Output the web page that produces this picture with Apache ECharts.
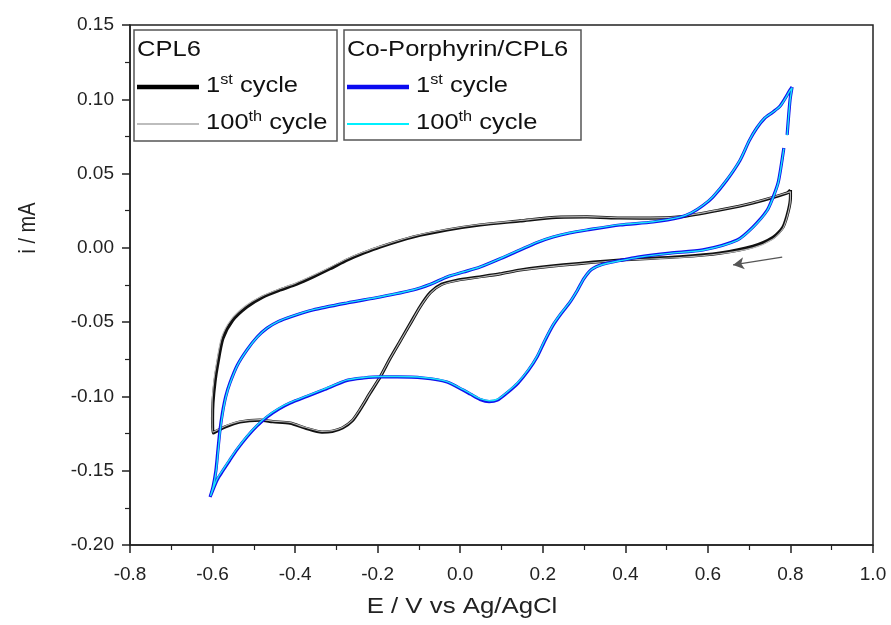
<!DOCTYPE html>
<html>
<head>
<meta charset="utf-8">
<title>Cyclic voltammetry: CPL6 vs Co-Porphyrin/CPL6</title>
<script src="https://cdn.jsdelivr.net/npm/echarts@6/dist/echarts.min.js"></script>
<style>
  html, body { margin: 0; padding: 0; background: #fff; }
  #chart { width: 891px; height: 625px; }
</style>
</head>
<body>
<div id="chart"></div>
<script>
// Potential axis ticks (V vs Ag/AgCl) and current axis ticks (mA)
const xTicks = [-0.8, -0.6, -0.4, -0.2, 0.0, 0.2, 0.4, 0.6, 0.8, 1.0];
const yTicks = [-0.20, -0.15, -0.10, -0.05, 0.00, 0.05, 0.10, 0.15];

// CPL6, 1st cycle: [E (V), i (mA)], scan starts at +0.8 V going cathodic
const cpl6First = [
  [0.800, 0.039], [0.800, 0.034], [0.795, 0.025], [0.782, 0.014], [0.758, 0.007],
  [0.709, 0.001], [0.629, -0.0035], [0.532, -0.006], [0.387, -0.0082], [0.250, -0.0115],
  [0.145, -0.0149], [0.096, -0.0175], [0.040, -0.0198], [-0.008, -0.0218], [-0.045, -0.0245],
  [-0.072, -0.0300], [-0.097, -0.0395], [-0.120, -0.0505], [-0.145, -0.0625], [-0.170, -0.0745],
  [-0.194, -0.0869], [-0.219, -0.0980], [-0.243, -0.1090], [-0.262, -0.1165], [-0.285, -0.1212],
  [-0.310, -0.1235], [-0.335, -0.1240], [-0.376, -0.1212], [-0.412, -0.1180], [-0.454, -0.1170],
  [-0.485, -0.1160], [-0.534, -0.1172], [-0.570, -0.1206], [-0.599, -0.1246],
  [-0.600, -0.1150], [-0.599, -0.1044], [-0.594, -0.0900], [-0.588, -0.0790], [-0.575, -0.0610],
  [-0.552, -0.0490], [-0.517, -0.0398], [-0.478, -0.0331], [-0.437, -0.0284], [-0.397, -0.0245],
  [-0.357, -0.0196], [-0.315, -0.0140], [-0.274, -0.0082], [-0.234, -0.0035], [-0.194, 0.0006],
  [-0.114, 0.0073], [-0.032, 0.0120], [0.048, 0.0154], [0.145, 0.0181], [0.232, 0.0205],
  [0.307, 0.0208], [0.387, 0.0201], [0.460, 0.0200], [0.532, 0.0208], [0.629, 0.0255],
  [0.709, 0.0302], [0.792, 0.0369], [0.800, 0.039]
];

// CPL6, 100th cycle
const cpl6Hundredth = [
  [0.800, 0.038], [0.800, 0.033], [0.795, 0.024], [0.782, 0.013], [0.758, 0.006],
  [0.709, 0.000], [0.629, -0.0040], [0.532, -0.0065], [0.387, -0.0085], [0.250, -0.0118],
  [0.145, -0.0151], [0.096, -0.0177], [0.040, -0.0201], [-0.008, -0.0221], [-0.045, -0.0248],
  [-0.072, -0.0303], [-0.097, -0.0397], [-0.120, -0.0506], [-0.145, -0.0626], [-0.170, -0.0745],
  [-0.194, -0.0868], [-0.219, -0.0978], [-0.243, -0.1087], [-0.262, -0.1161], [-0.285, -0.1207],
  [-0.310, -0.1230], [-0.335, -0.1235], [-0.376, -0.1208], [-0.412, -0.1176], [-0.454, -0.1166],
  [-0.485, -0.1156], [-0.534, -0.1168], [-0.570, -0.1200], [-0.599, -0.1240],
  [-0.601, -0.1150], [-0.601, -0.1040], [-0.597, -0.0895], [-0.591, -0.0784], [-0.578, -0.0602],
  [-0.555, -0.0482], [-0.520, -0.0390], [-0.480, -0.0324], [-0.440, -0.0278], [-0.400, -0.0239],
  [-0.360, -0.0190], [-0.318, -0.0134], [-0.277, -0.0077], [-0.236, -0.0030], [-0.196, 0.0010],
  [-0.116, 0.0077], [-0.034, 0.0124], [0.046, 0.0157], [0.145, 0.0184], [0.232, 0.0208],
  [0.307, 0.0210], [0.387, 0.0203], [0.460, 0.0202], [0.532, 0.0210], [0.629, 0.0257],
  [0.709, 0.0304], [0.792, 0.0371], [0.800, 0.038]
];

// Co-Porphyrin/CPL6, 1st cycle ('-' marks the short gap near +0.79 V)
const coPorFirst = [
  [0.804, 0.1083], [0.799, 0.0995], [0.792, 0.0760], ['-', '-'], [0.784, 0.0672],
  [0.777, 0.0544], [0.770, 0.0437], [0.758, 0.0342], [0.743, 0.0250], [0.709, 0.0140],
  [0.671, 0.0053], [0.588, -0.0014], [0.508, -0.0035], [0.430, -0.0062], [0.387, -0.0085],
  [0.345, -0.0110], [0.318, -0.0145], [0.300, -0.0205], [0.284, -0.0285], [0.266, -0.0365],
  [0.245, -0.0440], [0.225, -0.0520], [0.205, -0.0625], [0.186, -0.0735], [0.165, -0.0825],
  [0.140, -0.0910], [0.113, -0.0977], [0.090, -0.1025], [0.070, -0.1035], [0.048, -0.1020],
  [0.025, -0.0985], [0.007, -0.0957], [-0.032, -0.0903], [-0.090, -0.0876], [-0.153, -0.0869],
  [-0.194, -0.0869], [-0.234, -0.0876], [-0.274, -0.0892], [-0.332, -0.0957], [-0.372, -0.1000],
  [-0.412, -0.1044], [-0.440, -0.1085], [-0.468, -0.1138], [-0.493, -0.1200], [-0.517, -0.1273],
  [-0.540, -0.1355], [-0.558, -0.1428], [-0.575, -0.1500], [-0.589, -0.1562], [-0.606, -0.1677],
  [-0.599, -0.1610], [-0.592, -0.1500], [-0.587, -0.1360], [-0.582, -0.1226], [-0.576, -0.1110],
  [-0.568, -0.1000], [-0.558, -0.0910], [-0.540, -0.0790], [-0.517, -0.0688], [-0.492, -0.0600],
  [-0.468, -0.0540], [-0.440, -0.0495], [-0.412, -0.0465], [-0.357, -0.0418], [-0.274, -0.0371],
  [-0.194, -0.0331], [-0.114, -0.0284], [-0.072, -0.0245], [-0.032, -0.0196], [0.008, -0.0163],
  [0.048, -0.0129], [0.098, -0.0072], [0.145, -0.0014], [0.185, 0.0035], [0.225, 0.0073],
  [0.265, 0.0100], [0.307, 0.0120], [0.387, 0.0154], [0.467, 0.0174], [0.532, 0.0205],
  [0.560, 0.0235], [0.588, 0.0285], [0.612, 0.0342], [0.646, 0.0457], [0.678, 0.0590],
  [0.700, 0.0720], [0.718, 0.0805], [0.738, 0.0874], [0.758, 0.0915], [0.775, 0.0955],
  [0.790, 0.1020], [0.799, 0.1063], [0.804, 0.1083]
];

// Co-Porphyrin/CPL6, 100th cycle
const coPorHundredth = [
  [0.804, 0.1078], [0.799, 0.0990], [0.792, 0.0757], ['-', '-'], [0.784, 0.0668],
  [0.777, 0.0540], [0.770, 0.0433], [0.758, 0.0338], [0.743, 0.0247], [0.709, 0.0137],
  [0.671, 0.0050], [0.588, -0.0016], [0.508, -0.0037], [0.430, -0.0064], [0.387, -0.0087],
  [0.345, -0.0112], [0.318, -0.0146], [0.300, -0.0205], [0.284, -0.0284], [0.266, -0.0363],
  [0.245, -0.0437], [0.225, -0.0516], [0.205, -0.0620], [0.186, -0.0730], [0.165, -0.0820],
  [0.140, -0.0905], [0.113, -0.0972], [0.090, -0.1019], [0.070, -0.1029], [0.048, -0.1015],
  [0.025, -0.0981], [0.007, -0.0953], [-0.032, -0.0900], [-0.090, -0.0873], [-0.153, -0.0866],
  [-0.194, -0.0866], [-0.234, -0.0873], [-0.274, -0.0889], [-0.332, -0.0953], [-0.372, -0.0996],
  [-0.412, -0.1040], [-0.440, -0.1080], [-0.468, -0.1133], [-0.493, -0.1195], [-0.517, -0.1268],
  [-0.540, -0.1350], [-0.558, -0.1422], [-0.575, -0.1494], [-0.589, -0.1556], [-0.605, -0.1670],
  [-0.598, -0.1604], [-0.591, -0.1495], [-0.586, -0.1356], [-0.581, -0.1222], [-0.575, -0.1107],
  [-0.567, -0.0997], [-0.557, -0.0907], [-0.539, -0.0787], [-0.516, -0.0685], [-0.491, -0.0598],
  [-0.467, -0.0538], [-0.439, -0.0493], [-0.411, -0.0463], [-0.356, -0.0416], [-0.273, -0.0369],
  [-0.193, -0.0329], [-0.113, -0.0282], [-0.071, -0.0243], [-0.031, -0.0194], [0.009, -0.0161],
  [0.049, -0.0127], [0.098, -0.0070], [0.145, -0.0012], [0.185, 0.0037], [0.225, 0.0075],
  [0.265, 0.0102], [0.307, 0.0122], [0.387, 0.0156], [0.467, 0.0176], [0.532, 0.0207],
  [0.560, 0.0237], [0.588, 0.0287], [0.612, 0.0344], [0.646, 0.0459], [0.678, 0.0592],
  [0.700, 0.0721], [0.718, 0.0806], [0.738, 0.0875], [0.758, 0.0914], [0.775, 0.0953],
  [0.790, 0.1016], [0.799, 0.1060], [0.804, 0.1078]
];

// Scan-direction arrow, start and end in (E, i)
const scanArrow = [[0.780, -0.0062], [0.661, -0.0115]];

const FONT = '"Liberation Sans", Arial, Helvetica, sans-serif';
const xMin = xTicks[0], xMax = xTicks[xTicks.length - 1];
const yMin = yTicks[0], yMax = yTicks[yTicks.length - 1];

const chart = echarts.init(document.getElementById('chart'), null, { renderer: 'canvas' });

function lineSeries(name, data, color, width, z) {
  return {
    name: name,
    type: 'line',
    data: data,
    showSymbol: false,
    symbol: 'none',
    smooth: 0.25,
    connectNulls: false,
    animation: false,
    z: z,
    lineStyle: { color: color, width: width },
    emphasis: { disabled: true }
  };
}

// Legend panel drawn as graphics: frame, group title, line samples, labels with superscripts
function legendPanel(x, y, w, h, title, entries) {
  const els = [{
    type: 'rect',
    shape: { x: x, y: y, width: w, height: h },
    style: { fill: '#fff', stroke: '#555', lineWidth: 1.5 },
    z: 10
  }, {
    type: 'text',
    x: x + 3, y: y + 20,
    scaleX: 1.16,
    style: { text: title, font: '22px ' + FONT, fill: '#111', textVerticalAlign: 'middle' },
    z: 11
  }];
  entries.forEach(function (e, k) {
    const cy = y + 57 + k * 37;
    els.push({
      type: 'line',
      shape: { x1: x + 3, y1: cy, x2: x + 65, y2: cy },
      style: { stroke: e.color, lineWidth: e.width },
      z: 11
    });
    els.push({
      type: 'text',
      x: x + 72, y: cy + 12,
      scaleX: 1.16,
      style: {
        text: e.num + '{sup|' + e.sup + '} cycle',
        font: '22px ' + FONT,
        fill: '#111',
        textVerticalAlign: 'bottom',
        rich: { sup: { fontSize: 14, fontFamily: FONT, verticalAlign: 'top', lineHeight: 26, fill: '#111' } }
      },
      z: 11
    });
  });
  return els;
}

const option = {
  backgroundColor: '#ffffff',
  animation: false,
  grid: {
    left: 130, right: 18, top: 25, bottom: 80,
    show: true, borderColor: '#222', borderWidth: 1.5, backgroundColor: 'transparent'
  },
  xAxis: {
    type: 'value',
    min: xMin, max: xMax, interval: 0.2,
    axisLine: { show: true, onZero: false, lineStyle: { color: '#222', width: 1.5 } },
    axisTick: { show: true, inside: false, length: 8, lineStyle: { color: '#222', width: 1.5 } },
    minorTick: { show: true, splitNumber: 2, length: 5, lineStyle: { color: '#222', width: 1.2 } },
    splitLine: { show: false },
    axisLabel: {
      margin: 20,
      color: '#222',
      fontSize: 19,
      fontFamily: FONT,
      formatter: function (v) { return (Math.abs(v) < 1e-9 ? 0 : v).toFixed(1); }
    }
  },
  yAxis: {
    type: 'value',
    min: yMin, max: yMax, interval: 0.05,
    axisLine: { show: true, onZero: false, lineStyle: { color: '#222', width: 1.5 } },
    axisTick: { show: true, inside: false, length: 8, lineStyle: { color: '#222', width: 1.5 } },
    minorTick: { show: true, splitNumber: 2, length: 5, lineStyle: { color: '#222', width: 1.2 } },
    splitLine: { show: false },
    axisLabel: {
      margin: 16,
      color: '#222',
      fontSize: 19,
      fontFamily: FONT,
      formatter: function (v) { return (Math.abs(v) < 1e-9 ? 0 : v).toFixed(2); }
    }
  },
  series: [
    Object.assign(lineSeries('CPL6 1st cycle', cpl6First, '#111111', 3.2, 2), {
      markLine: {
        silent: true,
        symbol: ['none', 'arrow'],
        symbolSize: [9, 11],
        label: { show: false },
        lineStyle: { color: '#555', width: 1.3, type: 'solid' },
        data: [[{ coord: scanArrow[0] }, { coord: scanArrow[1] }]]
      }
    }),
    lineSeries('CPL6 100th cycle', cpl6Hundredth, '#b4b4b4', 1.1, 3),
    lineSeries('Co-Porphyrin/CPL6 1st cycle', coPorFirst, '#1010ee', 3.2, 4),
    lineSeries('Co-Porphyrin/CPL6 100th cycle', coPorHundredth, '#19e6f5', 1.4, 5)
  ],
  graphic: [
    {
      type: 'text',
      x: 462, y: 607,
      scaleX: 1.2,
      style: {
        text: 'E / V vs Ag/AgCl', font: '21.5px ' + FONT, fill: '#222',
        textAlign: 'center', textVerticalAlign: 'middle'
      }
    },
    {
      type: 'text',
      x: 28, y: 228,
      rotation: Math.PI / 2,
      scaleY: 1.2,
      style: {
        text: 'i / mA', font: '20px ' + FONT, fill: '#222',
        textAlign: 'center', textVerticalAlign: 'middle'
      }
    }
  ].concat(
    legendPanel(134, 30, 203, 111, 'CPL6', [
      { color: '#000', width: 4.5, num: '1', sup: 'st' },
      { color: '#bdbdbd', width: 2, num: '100', sup: 'th' }
    ]),
    legendPanel(344, 30, 237, 110, 'Co-Porphyrin/CPL6', [
      { color: '#0a0af0', width: 4.5, num: '1', sup: 'st' },
      { color: '#00f0ff', width: 2, num: '100', sup: 'th' }
    ])
  )
};

chart.setOption(option);
</script>
</body>
</html>
